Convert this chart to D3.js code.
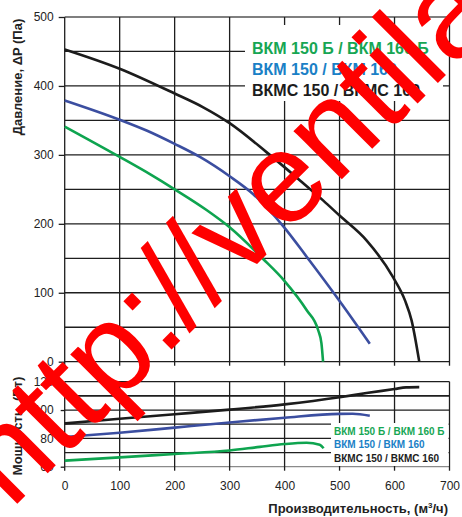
<!DOCTYPE html>
<html>
<head>
<meta charset="utf-8">
<script src="https://cdn.jsdelivr.net/npm/d3@7/dist/d3.min.js"></script>
<style>
  html, body { margin: 0; padding: 0; background: #fff; }
  svg { display: block; font-family: Arial, "Liberation Sans", sans-serif; }
</style>
</head>
<body>
<div id="chart"></div>
<script>
// Fan curves: pressure and power vs. air flow
var FLOW_TICKS = [0, 100, 200, 300, 400, 500, 600, 700];
var PRES_TICKS = [0, 100, 200, 300, 400, 500];
var POW_TICKS = [60, 80, 100, 120];

var SERIES_NAMES = ["ВКМ 150 Б / ВКМ 160 Б", "ВКМ 150 / ВКМ 160", "ВКМС 150 / ВКМС 160"];

// pressure curves (flow m3/h -> Pa)
var greenPresFlow = [0, 100, 155, 200, 258, 300, 361, 400, 440, 461, 467, 470];
var greenPres     = [341, 297, 272, 250, 220, 195, 149, 117, 75, 46, 27, 0];
var bluePresFlow  = [0, 100, 150, 200, 246, 300, 343, 397, 446, 500, 555];
var bluePres      = [379, 351, 335, 316, 297, 269, 243, 197, 146, 88, 26];
var blackPresFlow = [0, 100, 200, 252, 300, 367, 428, 470, 500, 549, 597, 619, 631, 645];
var blackPres     = [453, 425, 389, 369, 346, 304, 263, 234, 212, 176, 123, 89, 60, 0];

// power curves (flow m3/h -> W)
var greenPowFlow = [0, 100, 200, 300, 355, 400, 440, 464, 471];
var greenPow     = [64.3, 66.6, 69, 71.4, 74, 76, 76.9, 75.5, 73];
var bluePowFlow  = [0, 100, 200, 300, 400, 500, 524, 555];
var bluePow      = [81, 84, 87.6, 91.2, 94.6, 97.3, 97.4, 96];
var blackPowFlow = [0, 100, 200, 300, 400, 500, 549, 600, 621, 645];
var blackPow     = [90.5, 93.8, 97, 100.3, 104, 109, 112, 114.8, 116, 116.2];

(function () {
  var W = 462, H = 517;
  var curveColor = ["#0ea44f", "#3b4ea0", "#1c1c1c"];
  var textColor = ["#17a653", "#1a80c6", "#1c1c1c"];
  var gridColor = "#1e1e1e";

  var svg = d3.select("#chart").append("svg")
    .attr("width", W).attr("height", H)
    .attr("viewBox", "0 0 " + W + " " + H);

  var x = d3.scaleLinear().domain([0, 700]).range([64.7, 449.5]);
  var yP = d3.scaleLinear().domain([0, 500]).range([361.7, 17]);
  var yW = d3.scaleLinear().domain([60, 120]).range([466.7, 381.7]);

  function zip(xs, ys) { return xs.map(function (v, i) { return [v, ys[i]]; }); }

  // ---- top panel grid
  var gTop = svg.append("g");
  gTop.selectAll("line.h").data(d3.range(0, 501, 50)).enter().append("line")
    .attr("x1", x(0)).attr("x2", x(700))
    .attr("y1", function (d) { return yP(d); }).attr("y2", function (d) { return yP(d); })
    .attr("stroke", function (d) { return d === 500 ? "#555" : gridColor; })
    .attr("stroke-width", 1.3);
  gTop.selectAll("line.v").data(FLOW_TICKS).enter().append("line")
    .attr("x1", function (d) { return x(d); }).attr("x2", function (d) { return x(d); })
    .attr("y1", yP(500)).attr("y2", yP(0) + 4)
    .attr("stroke", gridColor).attr("stroke-width", 1.3);

  // ---- bottom panel grid
  var gBot = svg.append("g");
  gBot.selectAll("line.h").data(d3.range(60, 121, 10)).enter().append("line")
    .attr("x1", x(0)).attr("x2", x(700))
    .attr("y1", function (d) { return yW(d); }).attr("y2", function (d) { return yW(d); })
    .attr("stroke", function (d) { return d === 60 ? "#8a8a8a" : gridColor; })
    .attr("stroke-width", function (d) { return d === 110 ? 1.8 : 1.3; });
  gBot.selectAll("line.v").data(FLOW_TICKS).enter().append("line")
    .attr("x1", function (d) { return x(d); }).attr("x2", function (d) { return x(d); })
    .attr("y1", yW(120)).attr("y2", yW(60) + 4)
    .attr("stroke", gridColor).attr("stroke-width", 1.3);

  // ---- axes (ticks + labels)
  function styleAxis(g) {
    g.select(".domain").remove();
    g.selectAll(".tick line").attr("stroke", gridColor).attr("stroke-width", 1.3);
    g.selectAll(".tick text").attr("fill", "#222").style("font-size", "12px");
  }
  svg.append("g").attr("transform", "translate(" + x(0) + ",0)")
    .call(d3.axisLeft(yP).tickValues(PRES_TICKS).tickSize(6).tickPadding(5))
    .call(styleAxis);
  svg.append("g").attr("transform", "translate(" + x(0) + ",0)")
    .call(d3.axisLeft(yW).tickValues(POW_TICKS).tickSize(4).tickPadding(7))
    .call(styleAxis);
  svg.append("g").attr("transform", "translate(0," + yW(60) + ")")
    .call(d3.axisBottom(x).tickValues(FLOW_TICKS).tickSize(0).tickPadding(15))
    .call(styleAxis);

  // ---- legend boxes (drawn over grid)
  svg.append("rect").attr("x", 245).attr("y", 25).attr("width", 198).attr("height", 76).attr("fill", "#fff");
  svg.append("rect").attr("x", 331).attr("y", 423).attr("width", 117.5).attr("height", 43).attr("fill", "#fff");

  // ---- curves
  var line = d3.line()
    .x(function (d) { return x(d[0]); })
    .curve(d3.curveMonotoneX);

  var presData = [zip(greenPresFlow, greenPres), zip(bluePresFlow, bluePres), zip(blackPresFlow, blackPres)];
  var powData = [zip(greenPowFlow, greenPow), zip(bluePowFlow, bluePow), zip(blackPowFlow, blackPow)];

  presData.forEach(function (d, i) {
    svg.append("path").datum(d)
      .attr("d", line.y(function (p) { return yP(p[1]); }))
      .attr("fill", "none").attr("stroke", curveColor[i]).attr("stroke-width", 2.6);
  });
  powData.forEach(function (d, i) {
    svg.append("path").datum(d)
      .attr("d", line.y(function (p) { return yW(p[1]); }))
      .attr("fill", "none").attr("stroke", curveColor[i]).attr("stroke-width", 2.6);
  });

  // ---- legends
  svg.selectAll("text.legTop").data(SERIES_NAMES).enter().append("text")
    .attr("x", 252).attr("y", function (d, i) { return 54 + i * 21; })
    .attr("fill", function (d, i) { return textColor[i]; })
    .style("font-size", "16px").style("font-weight", "bold")
    .text(function (d) { return d; });
  svg.selectAll("text.legBot").data(SERIES_NAMES).enter().append("text")
    .attr("x", 334).attr("y", function (d, i) { return 435 + i * 13.4; })
    .attr("fill", function (d, i) { return textColor[i]; })
    .style("font-size", "10px").style("font-weight", "bold")
    .text(function (d) { return d; });

  // ---- axis titles
  svg.append("text").attr("transform", "translate(22,77) rotate(-90)")
    .attr("text-anchor", "middle").attr("fill", "#222")
    .style("font-size", "13px").style("font-weight", "bold")
    .text("Давление, ΔP (Па)");
  svg.append("text").attr("transform", "translate(22,426) rotate(-90)")
    .attr("text-anchor", "middle").attr("fill", "#222")
    .style("font-size", "13px").style("font-weight", "bold")
    .text("Мощность, (Вт)");
  var xt = svg.append("text").attr("x", 448).attr("y", 513)
    .attr("text-anchor", "end").attr("fill", "#222")
    .style("font-size", "13px").style("font-weight", "bold");
  xt.append("tspan").text("Производительность, (м");
  xt.append("tspan").attr("dy", -5).style("font-size", "8px").text("3");
  xt.append("tspan").attr("dy", 5).text("/ч)");

  // ---- watermark
  svg.append("text").attr("transform", "translate(11,510) rotate(-45)")
    .attr("fill", "#ff0000").style("font-size", "129px")
    .text("http://ventila");
})();
</script>
</body>
</html>
